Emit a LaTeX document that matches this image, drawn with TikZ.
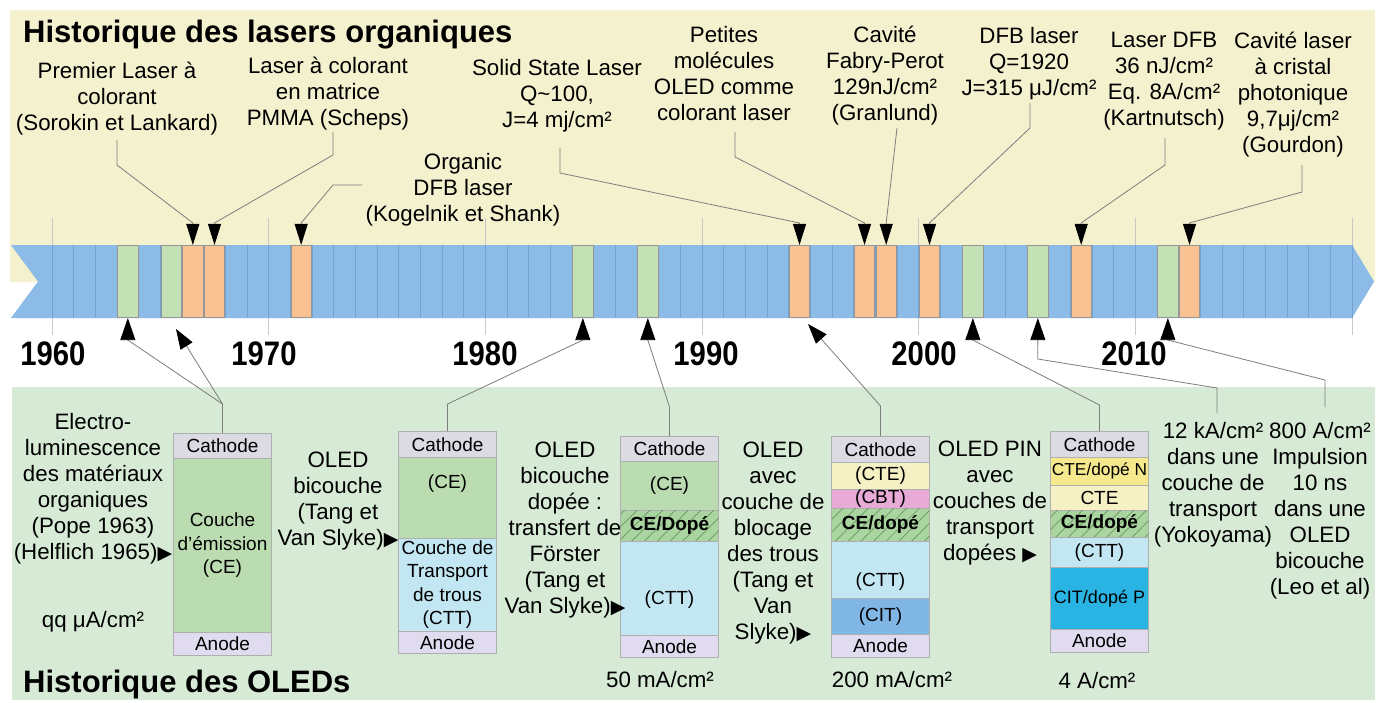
\documentclass[tikz,border=0pt]{standalone}
\usepackage{fontspec}
\setmainfont{Liberation Sans}
\newfontfamily\trifont{DejaVu Sans}
\newfontfamily\yearfont[FakeStretch=0.86]{Liberation Sans}
\usetikzlibrary{arrows.meta,patterns.meta}
\newcommand\labfont{\fontsize{22.3}{26}\selectfont}
\newcommand\boxfont{\fontsize{19}{23.5}\selectfont}
\newcommand\tri{{\trifont\fontsize{19}{19}\selectfont ▶}}
\definecolor{bgY}{RGB}{244,241,207}
\definecolor{bgG}{RGB}{214,234,214}
\definecolor{bandB}{RGB}{139,187,230}
\definecolor{bandL}{RGB}{115,162,208}
\definecolor{cellGf}{RGB}{196,224,181}
\definecolor{cellOf}{RGB}{249,194,146}
\definecolor{cellB}{RGB}{150,150,150}
\definecolor{decL}{RGB}{200,200,200}
\definecolor{connG}{RGB}{125,125,125}
\definecolor{cathC}{RGB}{220,218,226}
\definecolor{anodC}{RGB}{224,219,239}
\definecolor{ceC}{RGB}{186,220,176}
\definecolor{ceH}{RGB}{170,212,160}
\definecolor{hatchL}{RGB}{105,150,95}
\definecolor{cttC}{RGB}{194,230,242}
\definecolor{cteC}{RGB}{246,241,196}
\definecolor{cbtC}{RGB}{232,170,214}
\definecolor{citC}{RGB}{128,182,228}
\definecolor{cteN}{RGB}{246,232,140}
\definecolor{citP}{RGB}{42,180,228}
\definecolor{boxB}{RGB}{175,175,175}
\begin{document}
\begin{tikzpicture}[x=1pt,y=-1pt,
  conn/.style={draw=connG,line width=0.8pt},
  dtip/.style={-{Triangle[length=21pt,width=13pt,color=black]}},
  utip/.style={-{Triangle[length=22pt,width=15pt,color=black]}},
  ttip/.style={-{Triangle[length=20pt,width=14pt,color=black]}},
  cellG/.style={draw=cellB,line width=0.6pt,fill=cellGf,minimum width=20.2pt,minimum height=72.5pt,inner sep=0pt},
  cellO/.style={cellG,fill=cellOf},
  toplab/.style={font=\labfont,align=center,inner sep=0pt,anchor=north},
  layer/.style={draw=boxB,line width=0.6pt,minimum width=98pt,inner sep=0pt,anchor=north,font=\boxfont,align=center},
  hatch/.style={layer,fill=ceH,postaction={pattern color=hatchL,pattern={Lines[angle=45,distance=9pt,line width=0.7pt]}}},
  boxtxt/.style={font=\boxfont,inner sep=0pt,align=center},
  yearlab/.style={font=\yearfont\bfseries\fontsize{34}{34}\selectfont,inner sep=0pt,anchor=base},
  title/.style={font=\bfseries\fontsize{31}{36}\selectfont,inner sep=0pt,anchor=base west},
  val/.style={font=\labfont,inner sep=0pt,anchor=base}
]
\useasboundingbox (0,0) rectangle (1386,702);
\fill[white] (0,0) rectangle (1386,702);
\fill[bgY] (10,10) rectangle (1375,282);
\fill[bgG] (12,387) rectangle (1375,700);

% decade lines
\foreach \d in {0,...,6} \draw[decL,line width=0.8pt] ({52+\d*216.67},218) -- ({52+\d*216.67},335);

% band
\fill[bandB] (11,245) -- (1352,245) -- (1374,281.5) -- (1352,318) -- (11,318) -- (38,281.5) -- cycle;
\foreach \k in {0,...,60} \draw[bandL,line width=0.6pt] ({52+\k*21.667},245) -- ({52+\k*21.667},318);

% coloured cells
\foreach \yr in {1963,1965,1984,1987,2002,2005,2011}
  \node[cellG] (c\yr) at ({62.833+(\yr-1960)*21.667},281.5) {};
\foreach \yr in {1966,1967,1971,1994,1997,1998,2000,2007,2012}
  \node[cellO] (c\yr) at ({62.833+(\yr-1960)*21.667},281.5) {};

% years
\node[yearlab] (y1960) at (53,365) {1960};
\node[yearlab] (y1970) at (264,365) {1970};
\node[yearlab] (y1980) at (485,365) {1980};
\node[yearlab] (y1990) at (706,365) {1990};
\node[yearlab] (y2000) at (924,365) {2000};
\node[yearlab] (y2010) at (1134,365) {2010};

% titles
\node[title] (t1) at (23,42) {Historique des lasers organiques};
\node[title] (t2) at (23,692) {Historique des OLEDs};

% top labels
\node[toplab] (L1) at (117,62) {Premier Laser à\\colorant\\(Sorokin et Lankard)};
\node[toplab] (L2) at (328,57) {Laser à colorant\\en matrice\\PMMA (Scheps)};
\node[toplab] (L3) at (463,153) {Organic\\DFB laser\\(Kogelnik et Shank)};
\node[toplab] (L4) at (557,59) {Solid State Laser\\Q\textasciitilde100,\\J=4 mj/cm²};
\node[toplab] (L5) at (724,26) {Petites\\molécules\\OLED comme\\colorant laser};
\node[toplab] (L6) at (885,26) {Cavité\\Fabry-Perot\\129nJ/cm²\\(Granlund)};
\node[toplab] (L7) at (1029,27) {DFB laser\\Q=1920\\J=315 μJ/cm²};
\node[toplab] (L8) at (1164,32) {Laser DFB\\36 nJ/cm²\\Eq. 8A/cm²\\(Kartnutsch)};
\node[toplab] (L9) at (1293,32) {Cavité laser\\à cristal\\photonique\\9,7μj/cm²\\(Gourdon)};

% top connectors
\coordinate (L1s) at (117,140); \coordinate (L1k) at (117,165);
\draw[conn,dtip] (L1s) -- (L1k) -- ([yshift=22pt]c1966.north) -- (c1966.north);
\coordinate (L2s) at (333,132); \coordinate (L2k) at (333,155);
\draw[conn,dtip] (L2s) -- (L2k) -- ([yshift=22pt]c1967.north) -- (c1967.north);
\coordinate (L3s) at (362,185); \coordinate (L3k) at (333,185);
\draw[conn,dtip] (L3s) -- (L3k) -- ([yshift=22pt]c1971.north) -- (c1971.north);
\coordinate (L4s) at (560,148); \coordinate (L4k) at (560,173);
\draw[conn,dtip] (L4s) -- (L4k) -- ([yshift=22pt]c1994.north) -- (c1994.north);
\coordinate (L5s) at (735,132); \coordinate (L5k) at (735,157);
\draw[conn,dtip] (L5s) -- (L5k) -- ([yshift=22pt]c1997.north) -- (c1997.north);
\coordinate (L6s) at (897,128);
\draw[conn,dtip] (L6s) -- ([yshift=22pt]c1998.north) -- (c1998.north);
\coordinate (L7s) at (1030,103); \coordinate (L7k) at (1030,128);
\draw[conn,dtip] (L7s) -- (L7k) -- ([yshift=22pt]c2000.north) -- (c2000.north);
\coordinate (L8s) at (1165,138); \coordinate (L8k) at (1165,165);
\draw[conn,dtip] (L8s) -- (L8k) -- ([yshift=22pt]c2007.north) -- (c2007.north);
\coordinate (L9s) at (1302,165); \coordinate (L9k) at (1302,192);
\draw[conn,dtip] (L9s) -- (L9k) -- ([yshift=22pt]c2012.north) -- (c2012.north);

% ---------- OLED boxes ----------
% box 1
\node[layer,fill=cathC,minimum height=25pt] (b1) at (222.5,433) {Cathode};
\node[layer,fill=ceC,minimum height=174pt] (b1e) at (222.5,458) {Couche\\d'émission\\(CE)};
\node[layer,fill=anodC,minimum height=23pt] (b1a) at (222.5,632) {Anode};
% box 2
\node[layer,fill=cathC,minimum height=26pt] (b2) at (447.5,431) {Cathode};
\node[layer,fill=ceC,minimum height=81pt] (b2e) at (447.5,457) {};
\node[layer,fill=cttC,minimum height=93pt] (b2t) at (447.5,538) {Couche de\\Transport\\de trous\\(CTT)};
\node[layer,fill=anodC,minimum height=22pt] (b2a) at (447.5,631) {Anode};
\node[boxtxt] (b2et) at (447.5,484) {(CE)};
% box 3
\node[layer,fill=cathC,minimum height=25pt] (b3) at (669.5,436) {Cathode};
\node[layer,fill=ceC,minimum height=49pt] (b3e) at (669.5,461) {(CE)};
\node[hatch,minimum height=31pt] (b3h) at (669.5,510) {\bfseries CE/Dopé};
\node[layer,fill=cttC,minimum height=94pt] (b3t) at (669.5,541) {};
\node[layer,fill=anodC,minimum height=22pt] (b3a) at (669.5,635) {Anode};
\node[boxtxt] (b3tt) at (669.5,600) {(CTT)};
% box 4
\node[layer,fill=cathC,minimum height=26pt] (b4) at (880.5,436) {Cathode};
\node[layer,fill=cteC,minimum height=27pt] (b4c) at (880.5,462) {(CTE)};
\node[layer,fill=cbtC,minimum height=19pt] (b4b) at (880.5,489) {(CBT)};
\node[hatch,minimum height=33pt] (b4h) at (880.5,508) {\bfseries CE/dopé};
\node[layer,fill=cttC,minimum height=57pt] (b4t) at (880.5,541) {};
\node[layer,fill=citC,minimum height=36pt] (b4i) at (880.5,598) {(CIT)};
\node[layer,fill=anodC,minimum height=23pt] (b4a) at (880.5,634) {Anode};
\node[boxtxt] (b4tt) at (880.5,582) {(CTT)};
% box 5
\node[layer,fill=cathC,minimum height=26pt] (b5) at (1099.5,431) {Cathode};
\node[layer,fill=cteN,minimum height=28pt,font=\fontsize{17.3}{20}\selectfont] (b5n) at (1099.5,457) {CTE/dopé N};
\node[layer,fill=cteC,minimum height=25pt] (b5c) at (1099.5,485) {CTE};
\node[hatch,minimum height=27pt] (b5h) at (1099.5,510) {\bfseries CE/dopé};
\node[layer,fill=cttC,minimum height=30pt] (b5t) at (1099.5,537) {(CTT)};
\node[layer,fill=citP,minimum height=62pt,font=\fontsize{18}{20}\selectfont] (b5i) at (1099.5,567) {CIT/dopé P};
\node[layer,fill=anodC,minimum height=23pt] (b5a) at (1099.5,629) {Anode};

% side texts
\node[toplab] (P1) at (93,413) {Electro-\\luminescence\\des matériaux\\organiques\\(Pope 1963)\\(Helflich 1965)\tri};
\node[val] (P2) at (93,627) {qq μA/cm²};
\node[toplab] (T1) at (338,452) {OLED\\bicouche\\(Tang et\\Van Slyke)\tri};
\node[toplab] (T2) at (565,442) {OLED\\bicouche\\dopée :\\transfert de\\Förster\\(Tang et\\Van Slyke)\tri};
\node[toplab] (T3) at (773,442) {OLED\\avec\\couche de\\blocage\\des trous\\(Tang et\\Van\\Slyke)\tri};
\node[toplab] (T4) at (990,441) {OLED PIN\\avec\\couches de\\transport\\dopées \tri};
\node[toplab] (T5) at (1213,422) {12 kA/cm²\\dans une\\couche de\\transport\\(Yokoyama)};
\node[toplab] (T6) at (1320,422) {800 A/cm²\\Impulsion\\10 ns\\dans une\\OLED\\bicouche\\(Leo et al)};
\node[val] (V1) at (660,687) {50 mA/cm²};
\node[val] (V2) at (892,687) {200 mA/cm²};
\node[val] (V3) at (1097,688) {4 A/cm²};

% bottom connectors
\coordinate (k1) at (222.5,404);
\draw[conn] (b1.north) -- (k1);
\draw[conn,utip] (k1) -- ([yshift=-22pt]c1963.south) -- (c1963.south);
\coordinate (t1965) at (176,329);
\draw[conn,ttip] (k1) -- (t1965);
\coordinate (k2) at (447.5,404);
\draw[conn,utip] (b2.north) -- (k2) -- ([yshift=-22pt]c1984.south) -- (c1984.south);
\coordinate (k3) at (669.5,407);
\draw[conn,utip] (b3.north) -- (k3) -- ([yshift=-22pt]c1987.south) -- (c1987.south);
\coordinate (k4) at (880.5,406);
\coordinate (t1994) at (808,324);
\draw[conn,ttip] (b4.north) -- (k4) -- (t1994);
\coordinate (k5) at (1099.5,405);
\draw[conn,utip] (b5.north) -- (k5) -- ([yshift=-22pt]c2002.south) -- (c2002.south);
\coordinate (m1s) at (1217,413); \coordinate (m1k) at (1217,388); \coordinate (m1j) at (1037.8,359);
\draw[conn,utip] (m1s) -- (m1k) -- (m1j) -- ([yshift=-22pt]c2005.south) -- (c2005.south);
\coordinate (m2s) at (1325,407); \coordinate (m2k) at (1325,380);
\draw[conn,utip] (m2s) -- (m2k) -- ([yshift=-22pt]c2011.south) -- (c2011.south);
\end{tikzpicture}
\end{document}
